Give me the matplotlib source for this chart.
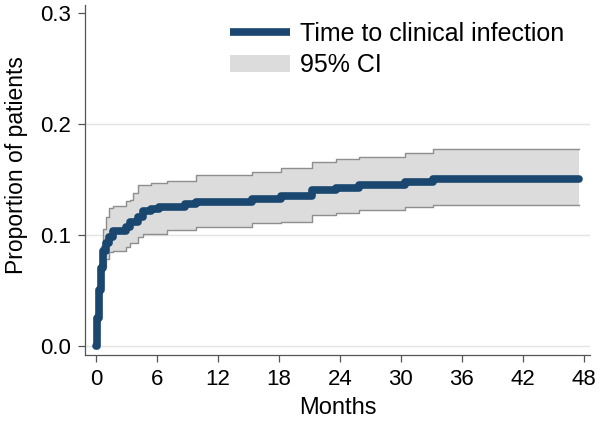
import numpy as np
import matplotlib
matplotlib.use("Agg")
import matplotlib.pyplot as plt
from matplotlib.patches import Patch
from matplotlib.lines import Line2D

plt.rcParams['font.family'] = ['Liberation Sans', 'DejaVu Sans']

# Kaplan-Meier style cumulative proportion
months = [0, 0.1, 0.25, 0.45, 0.7, 1.0, 1.3, 1.7, 2.9, 3.3, 3.6, 4.1, 4.6, 5.4, 6.2, 7.0,
          8.7, 9.8, 15.3, 18.2, 21.2, 23.6, 25.9, 30.4, 33.2, 47.5]
estimate = [0, 0.025, 0.05, 0.07, 0.086, 0.093, 0.098, 0.1035, 0.107, 0.112, 0.112, 0.1165,
            0.122, 0.123, 0.125, 0.125, 0.128, 0.130, 0.132, 0.135, 0.1405, 0.1426, 0.145,
            0.148, 0.1505, 0.1505]
ci_upper = [0, 0.04, 0.07, 0.09, 0.105, 0.1165, 0.124, 0.126, 0.131, 0.1315, 0.138, 0.145,
            0.145, 0.1466, 0.1466, 0.149, 0.149, 0.154, 0.157, 0.160, 0.166, 0.168, 0.1706,
            0.174, 0.1775, 0.1775]
ci_lower = [0, 0.012, 0.032, 0.052, 0.0715, 0.078, 0.085, 0.086, 0.0895, 0.0925, 0.0925,
            0.0985, 0.101, 0.101, 0.101, 0.1045, 0.1045, 0.1075, 0.111, 0.112, 0.118, 0.120,
            0.1225, 0.125, 0.1267, 0.1267]

xticks = [0, 6, 12, 18, 24, 30, 36, 42, 48]
yticks = [0.0, 0.1, 0.2, 0.3]

navy = '#1a476f'
ci_fill = '#dcdcdc'
ci_edge = '#8e8e8e'
axis_col = '#555555'

fig = plt.figure(figsize=(6, 4.22), dpi=100)
ax = fig.add_axes([0.1417, 0.1588, 0.8413, 0.829])

for yv in yticks[:3]:
    ax.axhline(yv, color='#e3e3e3', lw=1, zorder=0)

ax.fill_between(months, ci_lower, ci_upper, step='post', color=ci_fill, lw=0, zorder=1)
ax.step(months, ci_upper, where='post', color=ci_edge, lw=1, zorder=2)
ax.step(months, ci_lower, where='post', color=ci_edge, lw=1, zorder=2)
ax.step(months, estimate, where='post', color=navy, lw=5.5, zorder=3,
        solid_capstyle='round', solid_joinstyle='round')

ax.set_xlim(-1.1, 48.6)
ax.set_ylim(-0.0081, 0.307)
ax.set_xticks(xticks)
ax.set_yticks(yticks)
ax.set_yticklabels(['%.1f' % v for v in yticks])
ax.tick_params(labelsize=16, length=5, color=axis_col, width=0.9, pad=5)
for s in ['top', 'right']:
    ax.spines[s].set_visible(False)
for s in ['left', 'bottom']:
    ax.spines[s].set_color(axis_col)
    ax.spines[s].set_linewidth(0.9)

ax.set_xlabel('Months', fontsize=17, labelpad=5)
ax.set_ylabel('Proportion of patients', fontsize=16.5)
ax.yaxis.set_label_coords(-0.112, 0.543)

handles = [Line2D([0], [0], color=navy, lw=5.5, solid_capstyle='butt'),
           Patch(facecolor=ci_fill, edgecolor='none')]
ax.legend(handles, ['Time to clinical infection', '95% CI'], loc='upper left',
          bbox_to_anchor=(0.362, 0.978), bbox_transform=fig.transFigure,
          frameon=False, fontsize=18, handlelength=2.4,
          handletextpad=0.4, labelspacing=0.3, borderpad=0)

fig.savefig('out.png', dpi=100)
